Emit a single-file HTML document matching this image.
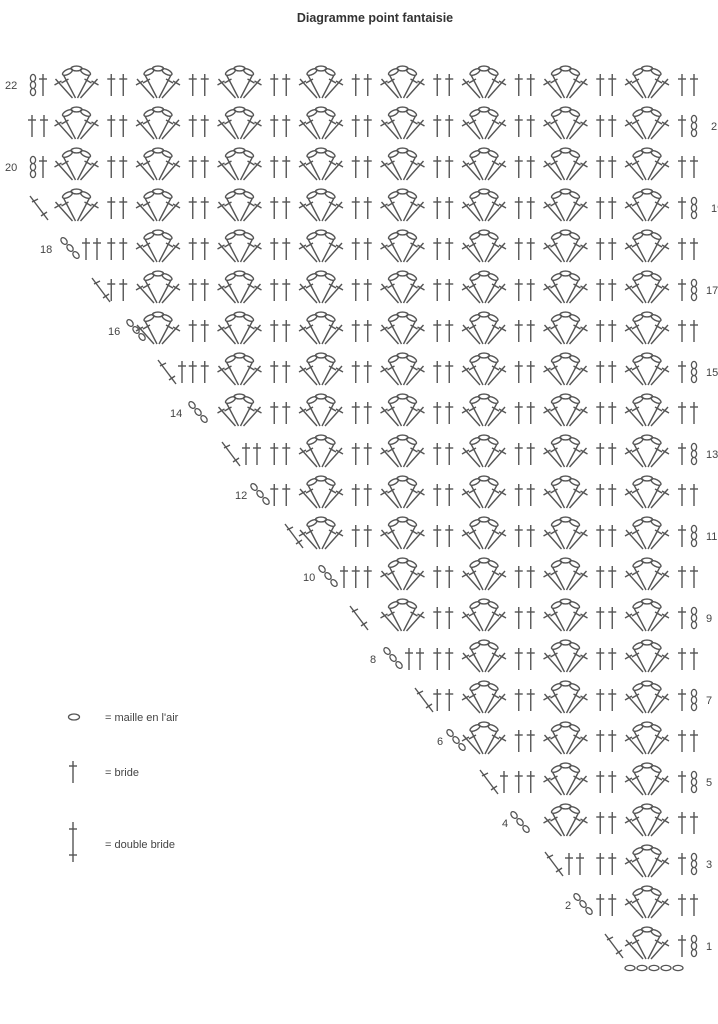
<!DOCTYPE html>
<html><head><meta charset="utf-8"><style>
html,body{margin:0;padding:0;background:#fff;}
body{width:718px;height:1024px;overflow:hidden;position:relative;font-family:"Liberation Sans",sans-serif;}
svg{position:absolute;left:0;top:0;}
</style></head><body>
<svg id="s" width="718" height="1024" viewBox="0 0 718 1024" xmlns="http://www.w3.org/2000/svg">
<defs>
<g id="st" stroke="#555" stroke-width="1.4" fill="none"><line x1="0" y1="-11" x2="0" y2="11"/><line x1="-4" y1="-6" x2="4" y2="-6"/></g>
<g id="ch3" stroke="#555" stroke-width="1.3" fill="none"><ellipse cx="0" cy="-7" rx="2.6" ry="3.6"/><ellipse cx="0" cy="0" rx="2.6" ry="3.6"/><ellipse cx="0" cy="7" rx="2.6" ry="3.6"/></g>
<g id="fan" stroke="#555" stroke-width="1.4" fill="none">
<line x1="-1" y1="13" x2="-13" y2="-10"/><line x1="-4" y1="13" x2="-21" y2="-6"/>
<line x1="1" y1="13" x2="13" y2="-10"/><line x1="4" y1="13" x2="21" y2="-6"/>
<line x1="-15" y1="-2" x2="-8" y2="-6"/><line x1="-22" y1="0" x2="-15" y2="-4"/>
<line x1="15" y1="-2" x2="8" y2="-6"/><line x1="22" y1="0" x2="15" y2="-4"/>
<ellipse cx="-9" cy="-13" rx="5.5" ry="2.4" transform="rotate(-28 -9 -13)"/>
<ellipse cx="0" cy="-16.5" rx="5.5" ry="2.4"/>
<ellipse cx="9" cy="-13" rx="5.5" ry="2.4" transform="rotate(28 9 -13)"/>
</g>
<g id="diag" stroke="#555" stroke-width="1.4" fill="none"><line x1="0" y1="-12" x2="18" y2="12"/><line x1="2" y1="-6" x2="8" y2="-9"/><line x1="11" y1="8" x2="17" y2="4"/></g>
<g id="chd" stroke="#555" stroke-width="1.3" fill="none"><ellipse cx="2" cy="-8" rx="2.6" ry="3.8" transform="rotate(-40 2 -8)"/><ellipse cx="8" cy="-1" rx="2.6" ry="3.8" transform="rotate(-40 8 -1)"/><ellipse cx="14" cy="6" rx="2.6" ry="3.8" transform="rotate(-40 14 6)"/></g>
</defs>
<text x="375" y="22" text-anchor="middle" font-size="12.5" font-weight="bold" fill="#333">Diagramme point fantaisie</text>
<g id="chart"></g>
<g font-size="11" fill="#444">
<ellipse cx="74" cy="717" rx="5.5" ry="3" stroke="#555" stroke-width="1.3" fill="none"/>
<text x="105" y="721">= maille en l'air</text>
<use href="#st" x="73" y="772"/>
<text x="105" y="776">= bride</text>
<g stroke="#555" stroke-width="1.4"><line x1="73" y1="822" x2="73" y2="862"/><line x1="69" y1="829" x2="77" y2="829"/><line x1="69" y1="855" x2="77" y2="855"/></g>
<text x="105" y="848">= double bride</text>
</g>
</svg>
<script>
var NS="http://www.w3.org/2000/svg",g=document.getElementById("chart");
function u(id,x,y){var e=document.createElementNS(NS,"use");e.setAttribute("href","#"+id);e.setAttribute("x",x);e.setAttribute("y",y);g.appendChild(e);}
function t(s,x,y){var e=document.createElementNS(NS,"text");e.setAttribute("x",x);e.setAttribute("y",y);e.setAttribute("font-size","11");e.setAttribute("fill","#444");e.textContent=s;g.appendChild(e);}
var starts={22:30,21:30,20:30,19:30,18:62,17:92,16:128,15:158,14:190,13:222,12:252,11:285,10:320,9:350,8:385,7:415,6:448,5:480,4:512,3:545,2:575,1:605};
var lab={22:5,20:5,18:40,16:108,14:170,12:235,10:303,8:370,6:437,4:502,2:565};
for(var r=1;r<=22;r++){
 var y=946-(r-1)*41,s=starts[r],first=9999;
 for(var k=0;k<8;k++){
  var c=76.5+81.5*k;
  if(c-20>=s+8){u("fan",c,y); if(c-22<first)first=c-22;}
  if(k<7){var m=c+40.75; if(m-6>=s+14){u("st",m-6,y);u("st",m+6,y); if(m-6<first)first=m-6;}}
 }
 if(r>=19){
  if(r==22||r==20){u("ch3",33,y);u("st",43,y);}
  else if(r==21){u("st",32,y);u("st",44,y);}
  else u("diag",30,y);
 } else {
  if(r%2==0)u("chd",s,y);else u("diag",s,y);
  for(var x=s+24;x<=first-10;x+=11)u("st",x,y);
 }
 u("st",682,y);
 if(r%2==1)u("ch3",694,y);else u("st",694,y);
 if(lab[r]!==undefined)t(String(r),lab[r],y+4);
 if(r%2==1)t(String(r),r>=19?711:706,y+4);
}
for(var i=0;i<5;i++){var e=document.createElementNS(NS,"ellipse");e.setAttribute("cx",630+i*12);e.setAttribute("cy",968);e.setAttribute("rx",5);e.setAttribute("ry",2.6);e.setAttribute("stroke","#555");e.setAttribute("stroke-width","1.3");e.setAttribute("fill","none");g.appendChild(e);}
</script>
</body></html>
